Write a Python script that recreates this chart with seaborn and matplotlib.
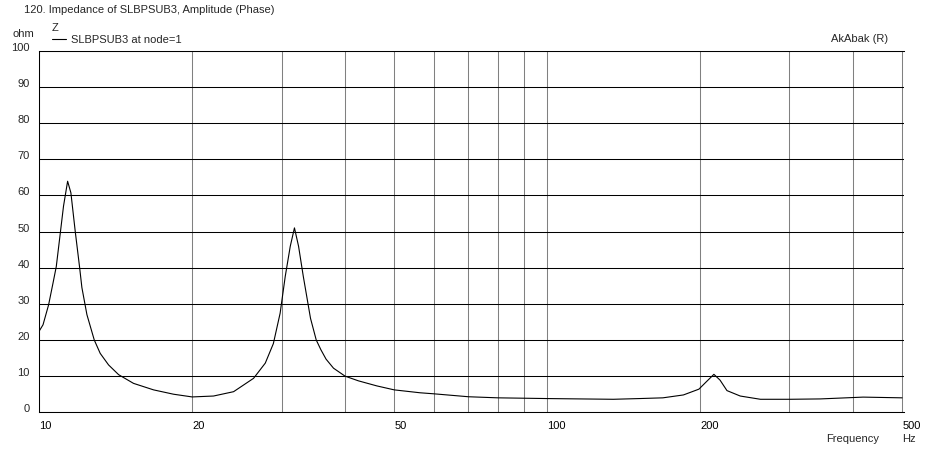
import matplotlib
matplotlib.use("Agg")
import pandas as pd
import matplotlib.pyplot as plt
import seaborn as sns
from matplotlib.ticker import FixedLocator, NullFormatter

# Impedance curve (Hz, ohm)
freq_hz = [10.0, 10.17, 10.43, 10.64, 10.80, 10.95, 11.16, 11.37, 11.54, 11.77,
           12.0, 12.13, 12.41, 12.83, 13.18, 13.69, 14.33, 15.33, 16.79,
           18.38, 20.0, 22.03, 24.13, 26.42, 27.86, 28.9, 29.8, 30.5, 31.2,
           31.8, 32.4, 33.1, 34.2, 35.1, 35.85, 36.7, 37.96, 40.0, 42.5,
           46.2, 50.0, 56.2, 60.0, 70.0, 80.0, 100.0, 135.0, 152.0, 169.0,
           185.5, 199.0, 206.0, 213.0, 219.0, 226.0, 240.0, 263.0, 301.0, 345.0,
           419.0, 500.0]
impedance_ohm = [22.5, 24.2, 29.7, 35.7, 40.3, 47.3, 57.0, 63.9, 60.7, 50.0,
                 40.3, 34.5, 27.0, 20.0, 16.3, 13.1, 10.4, 8.0, 6.2,
                 5.0, 4.25, 4.5, 5.7, 9.4, 13.6, 19.0, 27.4, 37.6, 45.9,
                 51.0, 45.9, 37.6, 26.0, 20.0, 17.3, 14.7, 12.2, 10.0, 8.7,
                 7.3, 6.2, 5.4, 5.1, 4.3, 4.0, 3.8, 3.6, 3.8, 4.0,
                 4.8, 6.4, 8.5, 10.5, 8.9, 6.0, 4.5, 3.6, 3.6, 3.7,
                 4.2, 4.0]

x_ticks = [10, 20, 50, 100, 200, 500]
x_grid_minor = [30, 40, 60, 70, 80, 90, 300, 400]
y_ticks = [0, 10, 20, 30, 40, 50, 60, 70, 80, 90, 100]

df = pd.DataFrame({"Frequency": freq_hz, "Z": impedance_ohm})

sns.set_style("white")
plt.rcParams["font.family"] = ["Liberation Sans", "DejaVu Sans"]
plt.rcParams["font.size"] = 8

W, H = 928, 449
fig = plt.figure(figsize=(W / 100, H / 100), dpi=100)
ax = fig.add_axes([39.3 / W, 1 - 412.3 / H, (904.3 - 39.3) / W, (412.3 - 50.7) / H])

sns.lineplot(data=df, x="Frequency", y="Z", color="black", linewidth=0.8,
             label="SLBPSUB3 at node=1", ax=ax)
ax.set_xscale("log")
ax.set_xlim(10, 505)
ax.set_ylim(0, 100)
ax.set_xlabel("")
ax.set_ylabel("")

# grid: grey verticals, black horizontals
ax.set_xticks(x_ticks, labels=[str(t) for t in x_ticks])
ax.xaxis.set_minor_locator(FixedLocator(x_grid_minor))
ax.xaxis.set_minor_formatter(NullFormatter())
ax.set_yticks(y_ticks, labels=[str(t) for t in y_ticks])
ax.grid(which="both", axis="x", color="#808080", linewidth=0.75)
ax.grid(which="major", axis="y", color="black", linewidth=0.75)

ax.tick_params(axis="x", which="major", length=3, width=0.75, color="#808080",
               direction="out", pad=3, labelsize=8, labelcolor="black")
ax.tick_params(axis="x", which="minor", length=0)
ax.tick_params(axis="y", length=3, width=0.75, color="black", direction="out",
               pad=4, labelsize=8)
for lbl in ax.get_xticklabels():
    lbl.set_ha("left")
for lbl in ax.get_yticklabels():
    lbl.set_va("baseline")

for side in ["left", "bottom", "top"]:
    ax.spines[side].set_color("black")
    ax.spines[side].set_linewidth(0.75)
ax.spines["right"].set_visible(False)

ax.legend(loc="center left", bbox_to_anchor=(52 / W, 1 - 40 / H),
          bbox_transform=fig.transFigure, frameon=False, borderpad=0,
          borderaxespad=0, handlelength=1.3, handletextpad=0.45, fontsize=8)

fig.text(24 / W, 1 - 13 / H, "120. Impedance of SLBPSUB3, Amplitude (Phase)",
         ha="left", va="baseline")
fig.text(52 / W, 1 - 31 / H, "Z", ha="left", va="baseline")
fig.text(13 / W, 1 - 37 / H, "ohm", ha="left", va="baseline")
fig.text(888 / W, 1 - 42 / H, "AkAbak (R)", ha="right", va="baseline")
fig.text(826 / W, 1 - 442 / H, "Frequency", ha="left", va="baseline")
fig.text(902 / W, 1 - 442 / H, "Hz", ha="left", va="baseline")

fig.savefig("out.png", dpi=100)
